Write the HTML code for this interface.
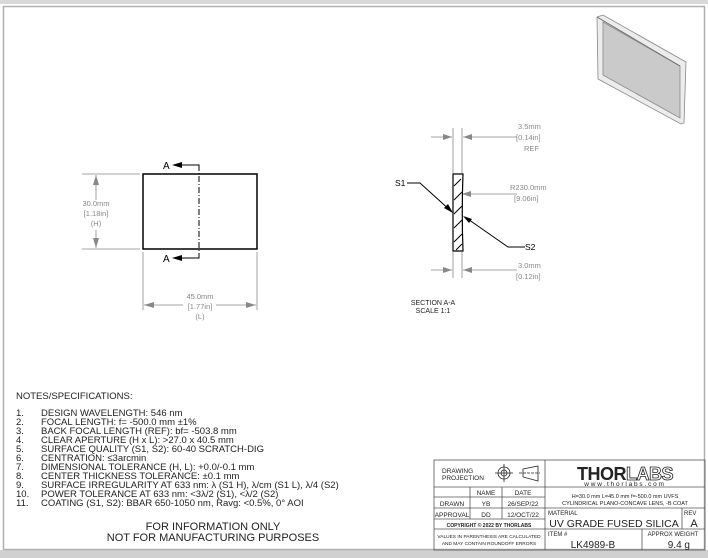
<!DOCTYPE html>
<html><head><meta charset="utf-8"><style>
html,body{margin:0;padding:0;background:#fff}
svg{display:block}
text{font-family:"Liberation Sans",sans-serif}
</style></head><body>
<svg width="708" height="558" viewBox="0 0 708 558" xmlns="http://www.w3.org/2000/svg">
<rect x="0" y="0" width="708" height="558" fill="#fff"/>
<rect x="0" y="0" width="708" height="4" fill="#d8d8d8"/>
<rect x="0" y="550" width="708" height="8" fill="#d0d0d0"/>
<rect x="3.5" y="6.5" width="701" height="543" fill="none" stroke="#b0b0b0" stroke-width="1.5"/>

<!-- iso view -->
<g stroke="#888" stroke-width="0.8">
<polygon points="597,17 603,15 686,62 684,123 681,124 598,79" fill="#ececec"/>
<polygon points="603,22 680,66 680,118 603,75" fill="#cacaca"/>
<line x1="597" y1="17" x2="680" y2="66" stroke="#666"/>
</g>

<!-- front view -->
<g fill="none" stroke="#000">
<rect x="143" y="174" width="114" height="75" stroke-width="1.5"/>
<line x1="199" y1="165" x2="199" y2="258" stroke-dasharray="6,2,1,2" stroke-width="1"/>
<polyline points="176,165 199,165 199,170" stroke-width="1"/>
<polyline points="176,258 199,258 199,253" stroke-width="1"/>
</g>
<polygon points="172,165 182,162 182,168" fill="#000"/>
<polygon points="172,258 182,255 182,261" fill="#000"/>
<text x="163" y="169" font-size="10">A</text>
<text x="163" y="262" font-size="10">A</text>
<g stroke="#888" stroke-width="0.8" fill="none">
<line x1="82" y1="174" x2="140" y2="174"/><line x1="82" y1="249" x2="140" y2="249"/>
<line x1="96" y1="175" x2="96" y2="200"/><line x1="96" y1="230" x2="96" y2="248"/>
<line x1="143" y1="252" x2="143" y2="310"/><line x1="257" y1="252" x2="257" y2="310"/>
<line x1="144" y1="305" x2="183" y2="305"/><line x1="216" y1="305" x2="256" y2="305"/>
</g>
<g fill="#888">
<polygon points="96,175 93,185 99,185"/><polygon points="96,248 93,238 99,238"/>
<polygon points="144,305 154,302 154,308"/><polygon points="256,305 246,302 246,308"/>
</g>
<g fill="#888" font-size="7.5" text-anchor="middle">
<text x="96" y="206">30.0mm</text><text x="96" y="216">[1.18in]</text><text x="96" y="226">(H)</text>
<text x="200" y="299">45.0mm</text><text x="200" y="309">[1.77in]</text><text x="200" y="319">(L)</text>
</g>

<!-- section view -->
<g stroke="#888" stroke-width="0.8" fill="none">
<line x1="453" y1="128" x2="453" y2="173"/><line x1="462" y1="128" x2="462" y2="173"/>
<line x1="453" y1="252" x2="453" y2="278"/><line x1="462" y1="252" x2="462" y2="278"/>
<line x1="431" y1="137" x2="452" y2="137"/><line x1="463" y1="137" x2="517" y2="137"/>
<line x1="431" y1="270" x2="452" y2="270"/><line x1="463" y1="270" x2="517" y2="270"/>
<line x1="462" y1="194" x2="517" y2="194"/>
</g>
<g fill="#888">
<polygon points="452,137 443,134 443,140"/><polygon points="463,137 472,134 472,140"/>
<polygon points="452,270 443,267 443,273"/><polygon points="463,270 472,267 472,273"/>
<polygon points="462,194 471,191 471,197"/>
</g>
<g stroke="#000" fill="none" stroke-width="1">
<path d="M453,174 L463,174 Q461.5,212 463,251 L453,251 Z" stroke-width="1.2"/>
<path d="M454,186 L461,179 M454,200 L462,192 M454,214 L462,206 M454,228 L462,220 M454,242 L462,234 M456,250 L462,244"/>
<polyline points="407,183 420,183 452,212"/>
<polyline points="525,247 508,247 465,217"/>
</g>
<polygon points="453,213 444,208 448,204" fill="#000"/>
<polygon points="463,216 472,219 469,223" fill="#000"/>
<text x="395" y="186" font-size="8.5">S1</text>
<text x="525" y="250" font-size="8.5">S2</text>
<g fill="#888" font-size="7.5">
<text x="518" y="129">3.5mm</text><text x="516" y="140">[0.14in]</text><text x="524" y="151">REF</text>
<text x="510" y="190">R230.0mm</text><text x="514" y="201">[9.06in]</text>
<text x="518" y="268">3.0mm</text><text x="516" y="279">[0.12in]</text>
</g>
<g font-size="7" text-anchor="middle" fill="#222">
<text x="433" y="305">SECTION A-A</text><text x="433" y="313">SCALE 1:1</text>
</g>

<!-- notes -->
<g font-size="9.5" fill="#222">
<text x="16" y="399">NOTES/SPECIFICATIONS:</text>
<g>
<text x="16" y="416">1.</text><text x="41" y="416">DESIGN WAVELENGTH: 546 nm</text>
<text x="16" y="425">2.</text><text x="41" y="425">FOCAL LENGTH: f= -500.0 mm ±1%</text>
<text x="16" y="434">3.</text><text x="41" y="434">BACK FOCAL LENGTH (REF): bf= -503.8 mm</text>
<text x="16" y="443">4.</text><text x="41" y="443">CLEAR APERTURE (H x L): &gt;27.0 x 40.5 mm</text>
<text x="16" y="452">5.</text><text x="41" y="452">SURFACE QUALITY (S1, S2): 60-40 SCRATCH-DIG</text>
<text x="16" y="461">6.</text><text x="41" y="461">CENTRATION: ≤3arcmin</text>
<text x="16" y="470">7.</text><text x="41" y="470">DIMENSIONAL TOLERANCE (H, L): +0.0/-0.1 mm</text>
<text x="16" y="479">8.</text><text x="41" y="479">CENTER THICKNESS TOLERANCE: ±0.1 mm</text>
<text x="16" y="488">9.</text><text x="41" y="488">SURFACE IRREGULARITY AT 633 nm: λ (S1 H), λ/cm (S1 L), λ/4 (S2)</text>
<text x="16" y="497">10.</text><text x="41" y="497">POWER TOLERANCE AT 633 nm: &lt;3λ/2 (S1), &lt;λ/2 (S2)</text>
<text x="16" y="506">11.</text><text x="41" y="506">COATING (S1, S2): BBAR 650-1050 nm, Ravg: &lt;0.5%, 0° AOI</text>
</g>
<g font-size="11" text-anchor="middle">
<text x="213" y="530">FOR INFORMATION ONLY</text>
<text x="213" y="541">NOT FOR MANUFACTURING PURPOSES</text>
</g>
</g>

<!-- title block -->
<g stroke="#555" stroke-width="0.8" fill="none">
<rect x="434" y="460" width="271" height="90"/>
<line x1="545" y1="460" x2="545" y2="550"/>
<line x1="434" y1="487" x2="705" y2="487"/>
<line x1="434" y1="497" x2="545" y2="497"/>
<line x1="434" y1="508" x2="705" y2="508"/>
<line x1="434" y1="519" x2="545" y2="519"/>
<line x1="434" y1="529" x2="705" y2="529"/>
<line x1="470" y1="487" x2="470" y2="519"/>
<line x1="502" y1="487" x2="502" y2="519"/>
<line x1="682" y1="508" x2="682" y2="529"/>
<line x1="642" y1="529" x2="642" y2="550"/>
</g>
<g fill="#222">
<text x="442" y="473" font-size="6.5">DRAWING</text>
<text x="442" y="480" font-size="6.5">PROJECTION</text>
<g stroke="#222" fill="none" stroke-width="0.8">
<circle cx="504" cy="473" r="6"/><circle cx="504" cy="473" r="3"/>
<line x1="495" y1="473" x2="513" y2="473"/><line x1="504" y1="464" x2="504" y2="482"/>
<polygon points="523,469 538,466 538,481 523,477"/>
<line x1="519" y1="473" x2="540" y2="473" stroke-dasharray="3,1"/>
</g>
<g font-size="6.5" text-anchor="middle">
<text x="486" y="495">NAME</text><text x="523" y="495">DATE</text>
<text x="452" y="506">DRAWN</text><text x="486" y="506">YB</text><text x="523" y="506">26/SEP/22</text>
<text x="452" y="517">APPROVAL</text><text x="486" y="517">DD</text><text x="523" y="517">12/OCT/22</text>
<text x="489" y="527" font-size="5" font-weight="bold">COPYRIGHT © 2022 BY THORLABS</text>
<text x="489" y="538" font-size="4.8">VALUES IN PARENTHESIS ARE CALCULATED</text>
<text x="489" y="545" font-size="4.8">AND MAY CONTAIN ROUNDOFF ERRORS</text>
</g>
<text x="625" y="480" font-size="18" font-weight="bold" text-anchor="middle" letter-spacing="-0.5">THOR<tspan fill="#fff" stroke="#222" stroke-width="0.8">LABS</tspan></text>
<text x="625" y="486" font-size="6.5" text-anchor="middle" letter-spacing="1.8">www.thorlabs.com</text>
<text x="625" y="498" font-size="5.5" text-anchor="middle">H=30.0 mm L=45.0 mm f=-500.0 mm UVFS</text>
<text x="625" y="505" font-size="5.5" text-anchor="middle">CYLINDRICAL PLANO-CONCAVE LENS, -B COAT</text>
<text x="548" y="515" font-size="6">MATERIAL</text>
<text x="684" y="515" font-size="6">REV</text>
<text x="614" y="527" font-size="10.5" text-anchor="middle">UV GRADE FUSED SILICA</text>
<text x="694" y="527" font-size="11" text-anchor="middle">A</text>
<text x="548" y="536" font-size="6">ITEM #</text>
<text x="593" y="548" font-size="10" text-anchor="middle">LK4989-B</text>
<text x="673" y="536" font-size="6" text-anchor="middle">APPROX WEIGHT</text>
<text x="690" y="548" font-size="10" text-anchor="end">9.4 g</text>
</g>
</svg>
</body></html>
